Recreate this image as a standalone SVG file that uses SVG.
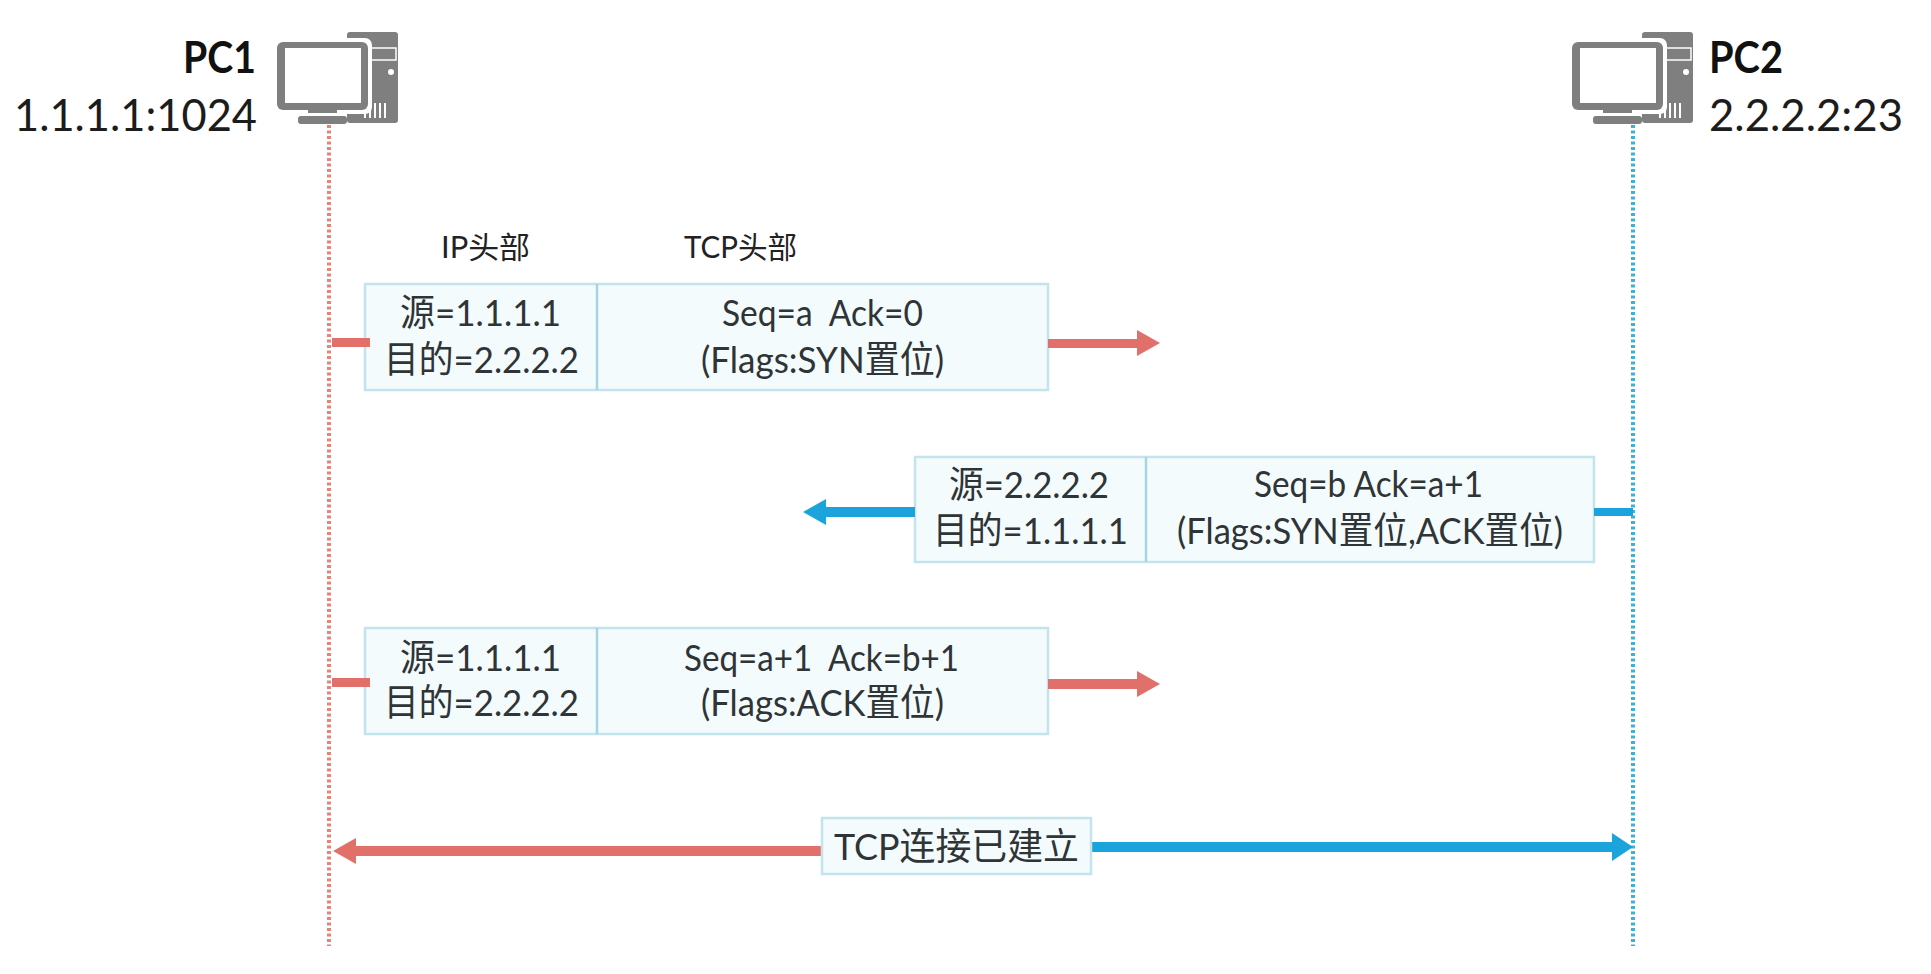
<svg xmlns="http://www.w3.org/2000/svg" xmlns:xlink="http://www.w3.org/1999/xlink" width="1931" height="974" viewBox="0 0 1931 974">
<style>
text{font-family:"Lato","Noto Sans CJK SC","Liberation Sans",sans-serif;fill:#2f3436;font-size:37px}
.host{font-size:44px;fill:#1c1c1c}
.bold{font-weight:700;fill:#111}
.hdr{font-size:30px;fill:#222}
.cell{fill:#f4fbfd;stroke:#c3e4ec;stroke-width:2.5}
.div{stroke:#a5d5e0;stroke-width:2.5}
.lred{stroke:#e8837a;stroke-width:4;stroke-dasharray:3 2.5;fill:none}
.lblue{stroke:#3fb1d8;stroke-width:4;stroke-dasharray:3 2.5;fill:none}
.red{fill:#e2706a}
.blue{fill:#1ba3dc}
.ic{fill:#7f7f7f}
.w{fill:#fff}
</style>
<defs>
<g id="computer">
<rect class="ic" x="347" y="32" width="51" height="91" rx="3"/>
<path d="M371 48H396V60H371Z" fill="none" stroke="#fff" stroke-width="1.5"/>
<circle class="w" cx="391" cy="72" r="3"/>
<path d="M365 110V118M370 103V118M375 103V118M380 103V118M385 103V118" stroke="#fff" stroke-width="2" fill="none"/>
<rect class="w" x="273" y="38" width="99" height="76" rx="7"/>
<rect class="ic" x="277" y="42" width="91" height="68" rx="6"/>
<rect class="w" x="285" y="48" width="76" height="55"/>
<rect class="ic" x="308" y="110" width="29" height="3"/>
<rect class="ic" x="298" y="116" width="49" height="8" rx="3"/>
</g>
</defs>
<rect width="1931" height="974" fill="#fff"/>
<g id="PC1">
<use href="#computer" xlink:href="#computer"/>
<text class="host bold" x="183" y="73" textLength="73" lengthAdjust="spacingAndGlyphs">PC1</text>
<text class="host" x="14" y="131" textLength="243" lengthAdjust="spacingAndGlyphs">1.1.1.1:1024</text>
</g>
<g id="PC2">
<use href="#computer" xlink:href="#computer" transform="translate(1295 0)"/>
<text class="host bold" x="1709" y="73" textLength="74" lengthAdjust="spacingAndGlyphs">PC2</text>
<text class="host" x="1709" y="131" textLength="194" lengthAdjust="spacingAndGlyphs">2.2.2.2:23</text>
</g>
<g id="header-labels">
<text class="hdr" x="441" y="258" textLength="89" lengthAdjust="spacingAndGlyphs">IP头部</text>
<text class="hdr" x="684" y="258" textLength="113" lengthAdjust="spacingAndGlyphs">TCP头部</text>
</g>
<g id="packet-1">
<rect class="cell" x="365" y="284" width="683" height="106"/>
<line class="div" x1="597" y1="284" x2="597" y2="390"/>
<text x="400" y="326" textLength="161" lengthAdjust="spacingAndGlyphs">源=1.1.1.1</text>
<text x="384" y="373" textLength="195" lengthAdjust="spacingAndGlyphs">目的=2.2.2.2</text>
<text x="722" y="326" textLength="201" lengthAdjust="spacingAndGlyphs" xml:space="preserve">Seq=a  Ack=0</text>
<text x="701" y="373" textLength="243" lengthAdjust="spacingAndGlyphs">(Flags:SYN置位)</text>
</g>
<g id="packet-2">
<rect class="cell" x="915" y="457" width="679" height="105"/>
<line class="div" x1="1146" y1="457" x2="1146" y2="562"/>
<text x="949" y="498" textLength="160" lengthAdjust="spacingAndGlyphs">源=2.2.2.2</text>
<text x="933" y="544" textLength="195" lengthAdjust="spacingAndGlyphs">目的=1.1.1.1</text>
<text x="1254" y="497" textLength="229" lengthAdjust="spacingAndGlyphs">Seq=b Ack=a+1</text>
<text x="1177" y="544" textLength="386" lengthAdjust="spacingAndGlyphs">(Flags:SYN置位,ACK置位)</text>
</g>
<g id="packet-3">
<rect class="cell" x="365" y="628" width="683" height="106"/>
<line class="div" x1="597" y1="628" x2="597" y2="734"/>
<text x="400" y="671" textLength="161" lengthAdjust="spacingAndGlyphs">源=1.1.1.1</text>
<text x="384" y="716" textLength="195" lengthAdjust="spacingAndGlyphs">目的=2.2.2.2</text>
<text x="684" y="671" textLength="275" lengthAdjust="spacingAndGlyphs" xml:space="preserve">Seq=a+1  Ack=b+1</text>
<text x="701" y="716" textLength="243" lengthAdjust="spacingAndGlyphs">(Flags:ACK置位)</text>
</g>
<g id="connectors">
<line class="lred" x1="329" y1="125" x2="329" y2="946"/>
<line class="lblue" x1="1633" y1="125" x2="1633" y2="946"/>
<rect class="red" x="332" y="338" width="38" height="9"/>
<path class="red" d="M1048 339H1137V330L1160 343L1137 356V348H1048Z"/>
<rect class="blue" x="1594" y="508" width="39" height="8"/>
<path class="blue" d="M915 507H826V499L803 512L826 525V517H915Z"/>
<rect class="red" x="332" y="678" width="38" height="9"/>
<path class="red" d="M1048 679H1137V671L1160 684L1137 697V689H1048Z"/>
<path class="red" d="M822 846H356V838L333 851L356 864V856H822Z"/>
<path class="blue" d="M1091 842H1612V833L1633 847L1612 861V852H1091Z"/>
</g>
<g id="tcp-established">
<rect class="cell" x="822" y="818" width="269" height="56"/>
<text x="834" y="860" textLength="245" lengthAdjust="spacingAndGlyphs">TCP连接已建立</text>
</g>
</svg>
